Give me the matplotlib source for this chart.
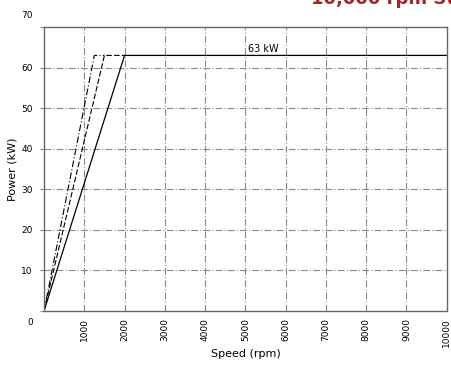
import matplotlib.pyplot as plt
from matplotlib.transforms import ScaledTranslation

# speed (rpm) / power (kW) curves
speed_solid = [0, 2000, 10000]
power_solid = [0, 63, 63]
speed_dashed = [0, 1500, 2000]
power_dashed = [0, 63, 63]
speed_dashdot = [0, 1250, 1500]
power_dashdot = [0, 63, 63]

x_ticks = [1000, 2000, 3000, 4000, 5000, 6000, 7000, 8000, 9000, 10000]
y_ticks = [0, 10, 20, 30, 40, 50, 60, 70]
rated_label = "63 kW"
rated_power = 63

fig = plt.figure(figsize=(4.51, 3.65), dpi=100)
ax = fig.add_axes([0.0976, 0.148, 0.893, 0.778])

grid_kw = dict(color='#888888', linestyle=(0, (6, 2, 1, 2)), linewidth=0.8)
for x in x_ticks[:-1]:
    ax.axvline(x, **grid_kw)
for y in y_ticks[1:-1]:
    ax.axhline(y, **grid_kw)

ax.plot(speed_solid, power_solid, color='black', linewidth=0.9)
ax.plot(speed_dashed, power_dashed, color='black', linewidth=0.8, linestyle=(0, (5, 2)))
ax.plot(speed_dashdot, power_dashdot, color='black', linewidth=0.8, linestyle=(0, (6, 2, 1, 2)))

ax.text(5450, rated_power + 0.4, rated_label, ha='center', va='bottom', fontsize=7)

ax.set_xlim(0, 10000)
ax.set_ylim(0, 70)
ax.set_xticks(x_ticks)
ax.set_xticklabels([str(v) for v in x_ticks], rotation=90, fontsize=6.5)
ax.set_yticks(y_ticks)
ax.set_yticklabels([str(v) for v in y_ticks], fontsize=6.5)
ax.tick_params(axis='x', length=0, pad=5)
ax.tick_params(axis='y', length=3, color='#888888', pad=5)

# end labels sit off the axis ends, as in the reference
ylabels = ax.get_yticklabels()
ylabels[0].set_transform(ylabels[0].get_transform() + ScaledTranslation(0, -11 / 100, fig.dpi_scale_trans))
ylabels[-1].set_transform(ylabels[-1].get_transform() + ScaledTranslation(0, 13 / 100, fig.dpi_scale_trans))

for s in ax.spines.values():
    s.set_color('#666666')
    s.set_linewidth(1.0)

ax.set_xlabel("Speed (rpm)", fontsize=8, labelpad=2)
ax.set_ylabel("Power (kW)", fontsize=8, labelpad=3)

fig.text(0.69, 1.003, "10,000 rpm St", color='#a3232a', fontsize=13,
         fontweight='bold', ha='left', va='center')

fig.savefig("out.png", dpi=100)
